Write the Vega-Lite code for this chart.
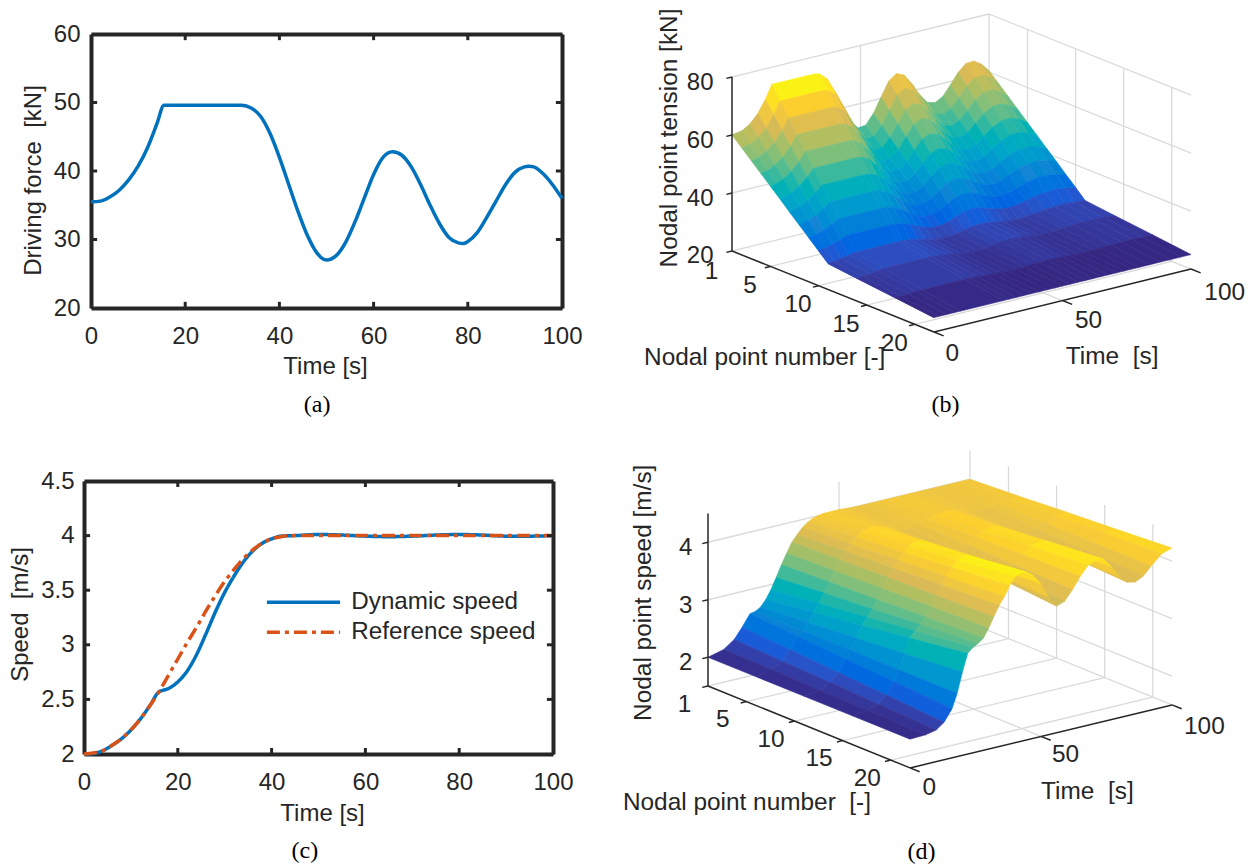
{"$schema":"https://vega.github.io/schema/vega-lite/v6.json","width":1253,"height":865,"autosize":{"type":"none"},"padding":0,"background":"white","config":{"view":{"stroke":null},"axis":{"grid":false,"labelFont":"Liberation Sans","titleFont":"Liberation Sans","labelFontSize":24,"titleFontSize":24,"titleFontWeight":"normal","labelColor":"#262626","titleColor":"#262626","domainColor":"#262626","tickColor":"#262626","labelPadding":16,"labelFlush":false,"labelOverlap":false,"titleBaseline":"middle"}},
"resolve":{"scale":{"x":"independent","y":"independent","color":"independent","fill":"independent","stroke":"independent","strokeDash":"independent"},"axis":{"x":"independent","y":"independent"}},
"layer":[
{"data":{"values":[{"t":0,"F":35.5},{"t":2,"F":35.6},{"t":4,"F":36.2},{"t":6,"F":37.2},{"t":8,"F":38.7},{"t":10,"F":40.7},{"t":12,"F":43.4},{"t":14,"F":46.9},{"t":15.5,"F":49.6},{"t":32,"F":49.6},{"t":34,"F":49.2},{"t":36,"F":48},{"t":38,"F":45.5},{"t":40,"F":42},{"t":42,"F":38},{"t":44,"F":34},{"t":46,"F":30.5},{"t":48,"F":28},{"t":50,"F":27},{"t":52,"F":27.6},{"t":54,"F":29.5},{"t":56,"F":32.5},{"t":58,"F":36},{"t":60,"F":39.5},{"t":62,"F":42},{"t":64,"F":42.8},{"t":66,"F":42.3},{"t":68,"F":40.6},{"t":70,"F":38},{"t":72,"F":35},{"t":74,"F":32.3},{"t":76,"F":30.3},{"t":78,"F":29.5},{"t":79,"F":29.4},{"t":80,"F":29.7},{"t":82,"F":31},{"t":84,"F":33.2},{"t":86,"F":35.6},{"t":88,"F":38},{"t":90,"F":39.8},{"t":92,"F":40.6},{"t":93,"F":40.7},{"t":94,"F":40.6},{"t":96,"F":39.6},{"t":98,"F":38},{"t":100,"F":36}]},
"mark":{"type":"line","color":"#0072bd","strokeWidth":3.5,"interpolate":"monotone"},
"encoding":{"x":{"field":"t","type":"quantitative","scale":{"domain":[0,100],"range":[91,562],"nice":false,"zero":false},"axis":{"orient":"bottom","offset":-557,"values":[0,20,40,60,80,100],"title":"Time [s]","titleX":325,"titleY":58,"labelPadding":21,"tickSize":-5,"domainWidth":4}},"y":{"field":"F","type":"quantitative","scale":{"domain":[20,60],"range":[308,34],"nice":false,"zero":false},"axis":{"orient":"left","offset":-91,"values":[20,30,40,50,60],"title":"Driving force\u00a0\u00a0[kN]","titleX":-58,"titleY":180,"tickSize":-5,"domainWidth":4}}}},
{"data":{"values":[{"t":0,"F":20}]},"mark":{"type":"point","opacity":0},"encoding":{"x":{"field":"t","type":"quantitative","scale":{"domain":[0,100],"range":[91,562],"nice":false,"zero":false},"axis":{"orient":"top","offset":-34,"values":[0,20,40,60,80,100],"labels":false,"title":null,"tickSize":-5,"domainWidth":4}},"y":{"field":"F","type":"quantitative","scale":{"domain":[20,60],"range":[308,34],"nice":false,"zero":false},"axis":{"orient":"right","offset":-691,"values":[20,30,40,50,60],"labels":false,"title":null,"tickSize":-5,"domainWidth":4}}}},
{"data":{"values":[{"t":20,"F":20,"t2":20,"F2":20.9},{"t":40,"F":20,"t2":40,"F2":20.9},{"t":60,"F":20,"t2":60,"F2":20.9},{"t":80,"F":20,"t2":80,"F2":20.9},{"t":20,"F":60,"t2":20,"F2":59.1},{"t":40,"F":60,"t2":40,"F2":59.1},{"t":60,"F":60,"t2":60,"F2":59.1},{"t":80,"F":60,"t2":80,"F2":59.1},{"t":0,"F":30,"t2":1.3,"F2":30},{"t":0,"F":40,"t2":1.3,"F2":40},{"t":0,"F":50,"t2":1.3,"F2":50},{"t":100,"F":30,"t2":98.7,"F2":30},{"t":100,"F":40,"t2":98.7,"F2":40},{"t":100,"F":50,"t2":98.7,"F2":50}]},"mark":{"type":"rule","color":"#262626","strokeWidth":3},"encoding":{"x":{"field":"t","type":"quantitative","scale":{"domain":[0,100],"range":[91,562],"nice":false,"zero":false},"axis":null},"y":{"field":"F","type":"quantitative","scale":{"domain":[20,60],"range":[308,34],"nice":false,"zero":false},"axis":null},"x2":{"field":"t2"},"y2":{"field":"F2"}}},
{"data":{"values":[{"t":48,"F":5.84,"label":"(a)"}]},"mark":{"type":"text","font":"Liberation Serif","fontSize":24,"color":"#000000"},"encoding":{"text":{"field":"label"},"x":{"field":"t","type":"quantitative","scale":{"domain":[0,100],"range":[91,562],"nice":false,"zero":false},"axis":null},"y":{"field":"F","type":"quantitative","scale":{"domain":[20,60],"range":[308,34],"nice":false,"zero":false},"axis":null}}},
{"data":{"values":[{"s":"Dynamic speed","t":0,"v":2},{"s":"Dynamic speed","t":2,"v":2.005},{"s":"Dynamic speed","t":4,"v":2.03},{"s":"Dynamic speed","t":6,"v":2.08},{"s":"Dynamic speed","t":8,"v":2.14},{"s":"Dynamic speed","t":10,"v":2.22},{"s":"Dynamic speed","t":12,"v":2.32},{"s":"Dynamic speed","t":14,"v":2.44},{"s":"Dynamic speed","t":16,"v":2.57},{"s":"Dynamic speed","t":17,"v":2.585},{"s":"Dynamic speed","t":18,"v":2.6},{"s":"Dynamic speed","t":20,"v":2.66},{"s":"Dynamic speed","t":22,"v":2.76},{"s":"Dynamic speed","t":24,"v":2.91},{"s":"Dynamic speed","t":26,"v":3.1},{"s":"Dynamic speed","t":28,"v":3.3},{"s":"Dynamic speed","t":30,"v":3.48},{"s":"Dynamic speed","t":32,"v":3.63},{"s":"Dynamic speed","t":34,"v":3.76},{"s":"Dynamic speed","t":36,"v":3.86},{"s":"Dynamic speed","t":38,"v":3.93},{"s":"Dynamic speed","t":40,"v":3.97},{"s":"Dynamic speed","t":42,"v":3.995},{"s":"Dynamic speed","t":45,"v":4},{"s":"Dynamic speed","t":50,"v":4.01},{"s":"Dynamic speed","t":55,"v":4.005},{"s":"Dynamic speed","t":60,"v":3.995},{"s":"Dynamic speed","t":65,"v":3.99},{"s":"Dynamic speed","t":70,"v":3.995},{"s":"Dynamic speed","t":75,"v":4.005},{"s":"Dynamic speed","t":80,"v":4.01},{"s":"Dynamic speed","t":85,"v":4.005},{"s":"Dynamic speed","t":90,"v":3.995},{"s":"Dynamic speed","t":95,"v":3.995},{"s":"Dynamic speed","t":100,"v":4},{"s":"Reference speed","t":0,"v":2},{"s":"Reference speed","t":2,"v":2.01},{"s":"Reference speed","t":4,"v":2.03},{"s":"Reference speed","t":6,"v":2.08},{"s":"Reference speed","t":8,"v":2.14},{"s":"Reference speed","t":10,"v":2.22},{"s":"Reference speed","t":12,"v":2.32},{"s":"Reference speed","t":14,"v":2.44},{"s":"Reference speed","t":16,"v":2.57},{"s":"Reference speed","t":18,"v":2.72},{"s":"Reference speed","t":20,"v":2.87},{"s":"Reference speed","t":22,"v":3.02},{"s":"Reference speed","t":24,"v":3.16},{"s":"Reference speed","t":26,"v":3.31},{"s":"Reference speed","t":28,"v":3.45},{"s":"Reference speed","t":30,"v":3.58},{"s":"Reference speed","t":32,"v":3.69},{"s":"Reference speed","t":34,"v":3.79},{"s":"Reference speed","t":36,"v":3.87},{"s":"Reference speed","t":38,"v":3.93},{"s":"Reference speed","t":40,"v":3.97},{"s":"Reference speed","t":42,"v":3.99},{"s":"Reference speed","t":44,"v":4},{"s":"Reference speed","t":60,"v":4},{"s":"Reference speed","t":80,"v":4},{"s":"Reference speed","t":100,"v":4}]},
"mark":{"type":"line","strokeWidth":3.5,"interpolate":"monotone"},
"encoding":{"x":{"field":"t","type":"quantitative","scale":{"domain":[0,100],"range":[84,553],"nice":false,"zero":false},"axis":{"orient":"bottom","offset":-111,"values":[0,20,40,60,80,100],"title":"Time [s]","titleX":322,"titleY":59,"labelPadding":21,"tickSize":-5,"domainWidth":4}},"y":{"field":"v","type":"quantitative","scale":{"domain":[2,4.5],"range":[754,481],"nice":false,"zero":false},"axis":{"orient":"left","offset":-84,"values":[2,2.5,3,3.5,4,4.5],"format":"~g","title":"Speed\u00a0\u00a0[m/s]","titleX":-64,"titleY":614,"labelPadding":15,"tickSize":-5,"domainWidth":4}},"color":{"field":"s","type":"nominal","legend":null,"scale":{"domain":["Dynamic speed","Reference speed"],"range":["#0072bd","#d95319"]}},"strokeDash":{"field":"s","type":"nominal","legend":null,"scale":{"domain":["Dynamic speed","Reference speed"],"range":[[1,0],[13,5,4,5]]}}}},
{"data":{"values":[{"s":"Dynamic speed","t":39,"v":3.39},{"s":"Dynamic speed","t":54.6,"v":3.39},{"s":"Reference speed","t":39,"v":3.115},{"s":"Reference speed","t":54.6,"v":3.115}]},
"mark":{"type":"line","strokeWidth":3.5},
"encoding":{"x":{"field":"t","type":"quantitative","scale":{"domain":[0,100],"range":[84,553],"nice":false,"zero":false},"axis":null},"y":{"field":"v","type":"quantitative","scale":{"domain":[2,4.5],"range":[754,481],"nice":false,"zero":false},"axis":null},"color":{"field":"s","type":"nominal","legend":null,"scale":{"domain":["Dynamic speed","Reference speed"],"range":["#0072bd","#d95319"]}},"strokeDash":{"field":"s","type":"nominal","legend":null,"scale":{"domain":["Dynamic speed","Reference speed"],"range":[[1,0],[13,5,4,5]]}}}},
{"data":{"values":[{"s":"Dynamic speed","t":57,"v":3.39},{"s":"Reference speed","t":57,"v":3.115}]},
"mark":{"type":"text","align":"left","baseline":"middle","font":"Liberation Sans","fontSize":24.2,"color":"#262626"},
"encoding":{"text":{"field":"s"},"x":{"field":"t","type":"quantitative","scale":{"domain":[0,100],"range":[84,553],"nice":false,"zero":false},"axis":null},"y":{"field":"v","type":"quantitative","scale":{"domain":[2,4.5],"range":[754,481],"nice":false,"zero":false},"axis":null}}},
{"data":{"values":[{"t":0,"v":2}]},"mark":{"type":"point","opacity":0},"encoding":{"x":{"field":"t","type":"quantitative","scale":{"domain":[0,100],"range":[84,553],"nice":false,"zero":false},"axis":{"orient":"top","offset":-481,"values":[0,20,40,60,80,100],"labels":false,"title":null,"tickSize":-5,"domainWidth":4}},"y":{"field":"v","type":"quantitative","scale":{"domain":[2,4.5],"range":[754,481],"nice":false,"zero":false},"axis":{"orient":"right","offset":-700,"values":[2,2.5,3,3.5,4,4.5],"labels":false,"title":null,"tickSize":-5,"domainWidth":4}}}},
{"data":{"values":[{"t":20,"v":2,"t2":20,"v2":2.055},{"t":40,"v":2,"t2":40,"v2":2.055},{"t":60,"v":2,"t2":60,"v2":2.055},{"t":80,"v":2,"t2":80,"v2":2.055},{"t":20,"v":4.5,"t2":20,"v2":4.445},{"t":40,"v":4.5,"t2":40,"v2":4.445},{"t":60,"v":4.5,"t2":60,"v2":4.445},{"t":80,"v":4.5,"t2":80,"v2":4.445},{"t":0,"v":2.5,"t2":1.3,"v2":2.5},{"t":0,"v":3,"t2":1.3,"v2":3},{"t":0,"v":3.5,"t2":1.3,"v2":3.5},{"t":0,"v":4,"t2":1.3,"v2":4},{"t":100,"v":2.5,"t2":98.7,"v2":2.5},{"t":100,"v":3,"t2":98.7,"v2":3},{"t":100,"v":3.5,"t2":98.7,"v2":3.5},{"t":100,"v":4,"t2":98.7,"v2":4}]},"mark":{"type":"rule","color":"#262626","strokeWidth":3},"encoding":{"x":{"field":"t","type":"quantitative","scale":{"domain":[0,100],"range":[84,553],"nice":false,"zero":false},"axis":null},"y":{"field":"v","type":"quantitative","scale":{"domain":[2,4.5],"range":[754,481],"nice":false,"zero":false},"axis":null},"x2":{"field":"t2"},"y2":{"field":"v2"}}},
{"data":{"values":[{"t":47.1,"v":1.11,"label":"(c)"}]},"mark":{"type":"text","font":"Liberation Serif","fontSize":24,"color":"#000000"},"encoding":{"text":{"field":"label"},"x":{"field":"t","type":"quantitative","scale":{"domain":[0,100],"range":[84,553],"nice":false,"zero":false},"axis":null},"y":{"field":"v","type":"quantitative","scale":{"domain":[2,4.5],"range":[754,481],"nice":false,"zero":false},"axis":null}}},

{"data":{"values":[{"t":0,"n":1,"z":20,"t2":100,"n2":1,"z2":20},{"t":0,"n":1,"z":40,"t2":100,"n2":1,"z2":40},{"t":0,"n":1,"z":60,"t2":100,"n2":1,"z2":60},{"t":0,"n":1,"z":80,"t2":100,"n2":1,"z2":80},{"t":100,"n":1,"z":20,"t2":100,"n2":22,"z2":20},{"t":100,"n":1,"z":40,"t2":100,"n2":22,"z2":40},{"t":100,"n":1,"z":60,"t2":100,"n2":22,"z2":60},{"t":100,"n":1,"z":80,"t2":100,"n2":22,"z2":80},{"t":100,"n":1,"z":20,"t2":100,"n2":1,"z2":80},{"t":50,"n":1,"z":20,"t2":50,"n2":1,"z2":80},{"t":100,"n":5,"z":20,"t2":100,"n2":5,"z2":80},{"t":100,"n":10,"z":20,"t2":100,"n2":10,"z2":80},{"t":100,"n":15,"z":20,"t2":100,"n2":15,"z2":80},{"t":100,"n":20,"z":20,"t2":100,"n2":20,"z2":80},{"t":50,"n":1,"z":20,"t2":50,"n2":22,"z2":20},{"t":0,"n":5,"z":20,"t2":100,"n2":5,"z2":20},{"t":0,"n":10,"z":20,"t2":100,"n2":10,"z2":20},{"t":0,"n":15,"z":20,"t2":100,"n2":15,"z2":20},{"t":0,"n":20,"z":20,"t2":100,"n2":20,"z2":20}]},
"transform":[{"calculate":"732+2.57*datum.t+9.62*(datum.n-1)","as":"sx"},{"calculate":"251-0.63*datum.t+3.86*(datum.n-1)-2.9*(datum.z-20)","as":"sy"},{"calculate":"732+2.57*datum.t2+9.62*(datum.n2-1)","as":"sx2"},{"calculate":"251-0.63*datum.t2+3.86*(datum.n2-1)-2.9*(datum.z2-20)","as":"sy2"}],
"mark":{"type":"rule","color":"#dadada","strokeWidth":1.3},
"encoding":{"x":{"field":"sx","type":"quantitative","scale":{"domain":[0,1253],"range":[0,1253],"nice":false,"zero":false},"axis":null},"y":{"field":"sy","type":"quantitative","scale":{"domain":[0,865],"range":[0,865],"nice":false,"zero":false},"axis":null},"x2":{"field":"sx2"},"y2":{"field":"sy2"}}},

{"data":{"values":[
{"t":100,"n":1,"z":60.5},{"t":100,"n":2,"z":57.4},{"t":100,"n":3,"z":54.2},{"t":100,"n":4,"z":51.1},{"t":100,"n":5,"z":47.9},{"t":100,"n":6,"z":44.8},{"t":100,"n":7,"z":41.6},{"t":100,"n":8,"z":38.5},{"t":100,"n":9,"z":35.3},{"t":100,"n":10,"z":32.2},{"t":100,"n":11,"z":29},{"t":100,"n":14,"z":27.9},{"t":100,"n":18,"z":26.5},{"t":100,"n":22,"z":25},
{"t":97,"n":1,"z":63.4},{"t":97,"n":2,"z":60},{"t":97,"n":3,"z":56.6},{"t":97,"n":4,"z":53.2},{"t":97,"n":5,"z":49.8},{"t":97,"n":6,"z":46.4},{"t":97,"n":7,"z":42.9},{"t":97,"n":8,"z":39.5},{"t":97,"n":9,"z":36.1},{"t":97,"n":10,"z":32.7},{"t":97,"n":11,"z":29.3},{"t":97,"n":14,"z":28.1},{"t":97,"n":18,"z":26.6},{"t":97,"n":22,"z":25},
{"t":94,"n":1,"z":65.1},{"t":94,"n":2,"z":61.6},{"t":94,"n":3,"z":58},{"t":94,"n":4,"z":54.5},{"t":94,"n":5,"z":50.9},{"t":94,"n":6,"z":47.4},{"t":94,"n":7,"z":43.8},{"t":94,"n":8,"z":40.3},{"t":94,"n":9,"z":36.7},{"t":94,"n":10,"z":33.2},{"t":94,"n":11,"z":29.6},{"t":94,"n":14,"z":28.3},{"t":94,"n":18,"z":26.7},{"t":94,"n":22,"z":25},
{"t":91,"n":1,"z":64.9},{"t":91,"n":2,"z":61.4},{"t":91,"n":3,"z":57.8},{"t":91,"n":4,"z":54.3},{"t":91,"n":5,"z":50.7},{"t":91,"n":6,"z":47.2},{"t":91,"n":7,"z":43.6},{"t":91,"n":8,"z":40.1},{"t":91,"n":9,"z":36.6},{"t":91,"n":10,"z":33},{"t":91,"n":11,"z":29.5},{"t":91,"n":14,"z":28.3},{"t":91,"n":18,"z":26.6},{"t":91,"n":22,"z":25},
{"t":88,"n":1,"z":62.5},{"t":88,"n":2,"z":59.2},{"t":88,"n":3,"z":55.8},{"t":88,"n":4,"z":52.5},{"t":88,"n":5,"z":49.2},{"t":88,"n":6,"z":45.9},{"t":88,"n":7,"z":42.5},{"t":88,"n":8,"z":39.2},{"t":88,"n":9,"z":35.9},{"t":88,"n":10,"z":32.5},{"t":88,"n":11,"z":29.2},{"t":88,"n":14,"z":28.1},{"t":88,"n":18,"z":26.5},{"t":88,"n":22,"z":25},
{"t":85,"n":1,"z":58.9},{"t":85,"n":2,"z":55.9},{"t":85,"n":3,"z":52.9},{"t":85,"n":4,"z":49.9},{"t":85,"n":5,"z":46.9},{"t":85,"n":6,"z":43.9},{"t":85,"n":7,"z":40.8},{"t":85,"n":8,"z":37.8},{"t":85,"n":9,"z":34.8},{"t":85,"n":10,"z":31.8},{"t":85,"n":11,"z":28.8},{"t":85,"n":14,"z":27.8},{"t":85,"n":18,"z":26.4},{"t":85,"n":22,"z":25},
{"t":82,"n":1,"z":55.5},{"t":82,"n":2,"z":52.8},{"t":82,"n":3,"z":50.1},{"t":82,"n":4,"z":47.4},{"t":82,"n":5,"z":44.7},{"t":82,"n":6,"z":42},{"t":82,"n":7,"z":39.2},{"t":82,"n":8,"z":36.5},{"t":82,"n":9,"z":33.8},{"t":82,"n":10,"z":31.1},{"t":82,"n":11,"z":28.4},{"t":82,"n":14,"z":27.5},{"t":82,"n":18,"z":26.2},{"t":82,"n":22,"z":25},
{"t":79,"n":1,"z":54},{"t":79,"n":2,"z":51.4},{"t":79,"n":3,"z":48.8},{"t":79,"n":4,"z":46.3},{"t":79,"n":5,"z":43.7},{"t":79,"n":6,"z":41.1},{"t":79,"n":7,"z":38.5},{"t":79,"n":8,"z":35.9},{"t":79,"n":9,"z":33.4},{"t":79,"n":10,"z":30.8},{"t":79,"n":11,"z":28.2},{"t":79,"n":14,"z":27.3},{"t":79,"n":18,"z":26.2},{"t":79,"n":22,"z":25},
{"t":76,"n":1,"z":54.8},{"t":76,"n":2,"z":52.2},{"t":76,"n":3,"z":49.5},{"t":76,"n":4,"z":46.9},{"t":76,"n":5,"z":44.2},{"t":76,"n":6,"z":41.6},{"t":76,"n":7,"z":38.9},{"t":76,"n":8,"z":36.3},{"t":76,"n":9,"z":33.6},{"t":76,"n":10,"z":31},{"t":76,"n":11,"z":28.3},{"t":76,"n":14,"z":27.4},{"t":76,"n":18,"z":26.2},{"t":76,"n":22,"z":25},
{"t":73,"n":1,"z":58.1},{"t":73,"n":2,"z":55.2},{"t":73,"n":3,"z":52.2},{"t":73,"n":4,"z":49.3},{"t":73,"n":5,"z":46.3},{"t":73,"n":6,"z":43.4},{"t":73,"n":7,"z":40.5},{"t":73,"n":8,"z":37.5},{"t":73,"n":9,"z":34.6},{"t":73,"n":10,"z":31.6},{"t":73,"n":11,"z":28.7},{"t":73,"n":14,"z":27.7},{"t":73,"n":18,"z":26.3},{"t":73,"n":22,"z":25},
{"t":70,"n":1,"z":62.5},{"t":70,"n":2,"z":59.2},{"t":70,"n":3,"z":55.8},{"t":70,"n":4,"z":52.5},{"t":70,"n":5,"z":49.2},{"t":70,"n":6,"z":45.9},{"t":70,"n":7,"z":42.5},{"t":70,"n":8,"z":39.2},{"t":70,"n":9,"z":35.9},{"t":70,"n":10,"z":32.5},{"t":70,"n":11,"z":29.2},{"t":70,"n":14,"z":28.1},{"t":70,"n":18,"z":26.5},{"t":70,"n":22,"z":25},
{"t":67,"n":1,"z":66.1},{"t":67,"n":2,"z":62.5},{"t":67,"n":3,"z":58.8},{"t":67,"n":4,"z":55.2},{"t":67,"n":5,"z":51.5},{"t":67,"n":6,"z":47.9},{"t":67,"n":7,"z":44.3},{"t":67,"n":8,"z":40.6},{"t":67,"n":9,"z":37},{"t":67,"n":10,"z":33.3},{"t":67,"n":11,"z":29.7},{"t":67,"n":14,"z":28.4},{"t":67,"n":18,"z":26.7},{"t":67,"n":22,"z":25},
{"t":64,"n":1,"z":67.3},{"t":64,"n":2,"z":63.6},{"t":64,"n":3,"z":59.8},{"t":64,"n":4,"z":56.1},{"t":64,"n":5,"z":52.3},{"t":64,"n":6,"z":48.6},{"t":64,"n":7,"z":44.8},{"t":64,"n":8,"z":41.1},{"t":64,"n":9,"z":37.3},{"t":64,"n":10,"z":33.6},{"t":64,"n":11,"z":29.8},{"t":64,"n":14,"z":28.5},{"t":64,"n":18,"z":26.7},{"t":64,"n":22,"z":25},
{"t":61,"n":1,"z":65.4},{"t":61,"n":2,"z":61.8},{"t":61,"n":3,"z":58.2},{"t":61,"n":4,"z":54.7},{"t":61,"n":5,"z":51.1},{"t":61,"n":6,"z":47.5},{"t":61,"n":7,"z":43.9},{"t":61,"n":8,"z":40.3},{"t":61,"n":9,"z":36.8},{"t":61,"n":10,"z":33.2},{"t":61,"n":11,"z":29.6},{"t":61,"n":14,"z":28.3},{"t":61,"n":18,"z":26.7},{"t":61,"n":22,"z":25},
{"t":58,"n":1,"z":60.5},{"t":58,"n":2,"z":57.4},{"t":58,"n":3,"z":54.2},{"t":58,"n":4,"z":51.1},{"t":58,"n":5,"z":47.9},{"t":58,"n":6,"z":44.8},{"t":58,"n":7,"z":41.6},{"t":58,"n":8,"z":38.5},{"t":58,"n":9,"z":35.3},{"t":58,"n":10,"z":32.2},{"t":58,"n":11,"z":29},{"t":58,"n":14,"z":27.9},{"t":58,"n":18,"z":26.5},{"t":58,"n":22,"z":25},
{"t":55,"n":1,"z":55.5},{"t":55,"n":2,"z":52.8},{"t":55,"n":3,"z":50.1},{"t":55,"n":4,"z":47.4},{"t":55,"n":5,"z":44.7},{"t":55,"n":6,"z":42},{"t":55,"n":7,"z":39.2},{"t":55,"n":8,"z":36.5},{"t":55,"n":9,"z":33.8},{"t":55,"n":10,"z":31.1},{"t":55,"n":11,"z":28.4},{"t":55,"n":14,"z":27.5},{"t":55,"n":18,"z":26.2},{"t":55,"n":22,"z":25},
{"t":52,"n":1,"z":52.1},{"t":52,"n":2,"z":49.7},{"t":52,"n":3,"z":47.3},{"t":52,"n":4,"z":44.9},{"t":52,"n":5,"z":42.5},{"t":52,"n":6,"z":40.1},{"t":52,"n":7,"z":37.6},{"t":52,"n":8,"z":35.2},{"t":52,"n":9,"z":32.8},{"t":52,"n":10,"z":30.4},{"t":52,"n":11,"z":28},{"t":52,"n":14,"z":27.2},{"t":52,"n":18,"z":26.1},{"t":52,"n":22,"z":25},
{"t":49,"n":1,"z":51.8},{"t":49,"n":2,"z":49.4},{"t":49,"n":3,"z":47},{"t":49,"n":4,"z":44.7},{"t":49,"n":5,"z":42.3},{"t":49,"n":6,"z":39.9},{"t":49,"n":7,"z":37.5},{"t":49,"n":8,"z":35.1},{"t":49,"n":9,"z":32.8},{"t":49,"n":10,"z":30.4},{"t":49,"n":11,"z":28},{"t":49,"n":14,"z":27.2},{"t":49,"n":18,"z":26.1},{"t":49,"n":22,"z":25},
{"t":46,"n":1,"z":55},{"t":46,"n":2,"z":52.3},{"t":46,"n":3,"z":49.7},{"t":46,"n":4,"z":47},{"t":46,"n":5,"z":44.3},{"t":46,"n":6,"z":41.7},{"t":46,"n":7,"z":39},{"t":46,"n":8,"z":36.3},{"t":46,"n":9,"z":33.6},{"t":46,"n":10,"z":31},{"t":46,"n":11,"z":28.3},{"t":46,"n":14,"z":27.4},{"t":46,"n":18,"z":26.2},{"t":46,"n":22,"z":25},
{"t":43,"n":1,"z":60.5},{"t":43,"n":2,"z":57.4},{"t":43,"n":3,"z":54.2},{"t":43,"n":4,"z":51.1},{"t":43,"n":5,"z":47.9},{"t":43,"n":6,"z":44.8},{"t":43,"n":7,"z":41.6},{"t":43,"n":8,"z":38.5},{"t":43,"n":9,"z":35.3},{"t":43,"n":10,"z":32.2},{"t":43,"n":11,"z":29},{"t":43,"n":14,"z":27.9},{"t":43,"n":18,"z":26.5},{"t":43,"n":22,"z":25},
{"t":40,"n":1,"z":66.5},{"t":40,"n":2,"z":62.8},{"t":40,"n":3,"z":59.1},{"t":40,"n":4,"z":55.5},{"t":40,"n":5,"z":51.8},{"t":40,"n":6,"z":48.1},{"t":40,"n":7,"z":44.4},{"t":40,"n":8,"z":40.7},{"t":40,"n":9,"z":37.1},{"t":40,"n":10,"z":33.4},{"t":40,"n":11,"z":29.7},{"t":40,"n":14,"z":28.4},{"t":40,"n":18,"z":26.7},{"t":40,"n":22,"z":25},
{"t":37,"n":1,"z":71.4},{"t":37,"n":2,"z":67.3},{"t":37,"n":3,"z":63.2},{"t":37,"n":4,"z":59.1},{"t":37,"n":5,"z":55},{"t":37,"n":6,"z":50.9},{"t":37,"n":7,"z":46.7},{"t":37,"n":8,"z":42.6},{"t":37,"n":9,"z":38.5},{"t":37,"n":10,"z":34.4},{"t":37,"n":11,"z":30.3},{"t":37,"n":14,"z":28.8},{"t":37,"n":18,"z":26.9},{"t":37,"n":22,"z":25},
{"t":34,"n":1,"z":73.7},{"t":34,"n":2,"z":69.4},{"t":34,"n":3,"z":65.1},{"t":34,"n":4,"z":60.8},{"t":34,"n":5,"z":56.5},{"t":34,"n":6,"z":52.2},{"t":34,"n":7,"z":47.8},{"t":34,"n":8,"z":43.5},{"t":34,"n":9,"z":39.2},{"t":34,"n":10,"z":34.9},{"t":34,"n":11,"z":30.6},{"t":34,"n":14,"z":29.1},{"t":34,"n":18,"z":27},{"t":34,"n":22,"z":25},
{"t":32,"n":1,"z":74.1},{"t":32,"n":2,"z":69.8},{"t":32,"n":3,"z":65.4},{"t":32,"n":4,"z":61.1},{"t":32,"n":5,"z":56.7},{"t":32,"n":6,"z":52.4},{"t":32,"n":7,"z":48},{"t":32,"n":8,"z":43.7},{"t":32,"n":9,"z":39.3},{"t":32,"n":10,"z":35},{"t":32,"n":11,"z":30.6},{"t":32,"n":14,"z":29.1},{"t":32,"n":18,"z":27},{"t":32,"n":22,"z":25},
{"t":15.5,"n":1,"z":74.1},{"t":15.5,"n":2,"z":69.8},{"t":15.5,"n":3,"z":65.4},{"t":15.5,"n":4,"z":61.1},{"t":15.5,"n":5,"z":56.7},{"t":15.5,"n":6,"z":52.4},{"t":15.5,"n":7,"z":48},{"t":15.5,"n":8,"z":43.7},{"t":15.5,"n":9,"z":39.3},{"t":15.5,"n":10,"z":35},{"t":15.5,"n":11,"z":30.6},{"t":15.5,"n":14,"z":29.1},{"t":15.5,"n":18,"z":27},{"t":15.5,"n":22,"z":25},
{"t":13,"n":1,"z":69.5},{"t":13,"n":2,"z":65.6},{"t":13,"n":3,"z":61.6},{"t":13,"n":4,"z":57.7},{"t":13,"n":5,"z":53.7},{"t":13,"n":6,"z":49.8},{"t":13,"n":7,"z":45.9},{"t":13,"n":8,"z":41.9},{"t":13,"n":9,"z":38},{"t":13,"n":10,"z":34},{"t":13,"n":11,"z":30.1},{"t":13,"n":14,"z":28.7},{"t":13,"n":18,"z":26.9},{"t":13,"n":22,"z":25},
{"t":10,"n":1,"z":65.2},{"t":10,"n":2,"z":61.6},{"t":10,"n":3,"z":58.1},{"t":10,"n":4,"z":54.5},{"t":10,"n":5,"z":51},{"t":10,"n":6,"z":47.4},{"t":10,"n":7,"z":43.8},{"t":10,"n":8,"z":40.2},{"t":10,"n":9,"z":36.7},{"t":10,"n":10,"z":33.2},{"t":10,"n":11,"z":29.6},{"t":10,"n":14,"z":28.3},{"t":10,"n":18,"z":26.7},{"t":10,"n":22,"z":25},
{"t":7,"n":1,"z":62.4},{"t":7,"n":2,"z":59.1},{"t":7,"n":3,"z":55.8},{"t":7,"n":4,"z":52.4},{"t":7,"n":5,"z":49.1},{"t":7,"n":6,"z":45.8},{"t":7,"n":7,"z":42.5},{"t":7,"n":8,"z":39.2},{"t":7,"n":9,"z":35.8},{"t":7,"n":10,"z":32.5},{"t":7,"n":11,"z":29.2},{"t":7,"n":14,"z":28.1},{"t":7,"n":18,"z":26.5},{"t":7,"n":22,"z":25},
{"t":4,"n":1,"z":60.7},{"t":4,"n":2,"z":57.5},{"t":4,"n":3,"z":54.4},{"t":4,"n":4,"z":51.2},{"t":4,"n":5,"z":48},{"t":4,"n":6,"z":44.9},{"t":4,"n":7,"z":41.7},{"t":4,"n":8,"z":38.5},{"t":4,"n":9,"z":35.3},{"t":4,"n":10,"z":32.2},{"t":4,"n":11,"z":29},{"t":4,"n":14,"z":27.9},{"t":4,"n":18,"z":26.5},{"t":4,"n":22,"z":25},
{"t":0,"n":1,"z":60},{"t":0,"n":2,"z":56.9},{"t":0,"n":3,"z":53.8},{"t":0,"n":4,"z":50.7},{"t":0,"n":5,"z":47.6},{"t":0,"n":6,"z":44.5},{"t":0,"n":7,"z":41.3},{"t":0,"n":8,"z":38.2},{"t":0,"n":9,"z":35.1},{"t":0,"n":10,"z":32},{"t":0,"n":11,"z":28.9},{"t":0,"n":14,"z":27.8},{"t":0,"n":18,"z":26.4},{"t":0,"n":22,"z":25}
]},
"transform":[{"window":[{"op":"lead","field":"z","as":"zt"},{"op":"lead","field":"t","as":"t2"}],"groupby":["n"],"sort":[{"field":"t","order":"ascending"}]},{"window":[{"op":"lead","field":"z","as":"zn"},{"op":"lead","field":"zt","as":"ztn"},{"op":"lead","field":"n","as":"n2"}],"groupby":["t"],"sort":[{"field":"n","order":"ascending"}]},{"filter":"datum.t2!=null && datum.n2!=null"},{"calculate":"(datum.z+datum.zt+datum.zn+datum.ztn)/4","as":"m"},{"calculate":"clamp(datum.t-0.5*(min(datum.n,11)-1)*min(1,(100-datum.t)/15),0,100)","as":"ta"},{"calculate":"clamp(datum.t2-0.5*(min(datum.n,11)-1)*min(1,(100-datum.t2)/15),0,100)","as":"tb"},{"calculate":"clamp(datum.t2-0.5*(min(datum.n2,11)-1)*min(1,(100-datum.t2)/15),0,100)","as":"tc"},{"calculate":"clamp(datum.t-0.5*(min(datum.n2,11)-1)*min(1,(100-datum.t)/15),0,100)","as":"td"},{"calculate":"{type:'Feature',properties:{},geometry:{type:'Polygon',coordinates:[[[732+2.57*datum.ta+9.62*(datum.n-1),251-0.63*datum.ta+3.86*(datum.n-1)-2.9*(datum.z-20)],[732+2.57*datum.tb+9.62*(datum.n-1),251-0.63*datum.tb+3.86*(datum.n-1)-2.9*(datum.zt-20)],[732+2.57*datum.tc+9.62*(datum.n2-1),251-0.63*datum.tc+3.86*(datum.n2-1)-2.9*(datum.ztn-20)],[732+2.57*datum.td+9.62*(datum.n2-1),251-0.63*datum.td+3.86*(datum.n2-1)-2.9*(datum.zn-20)],[732+2.57*datum.ta+9.62*(datum.n-1),251-0.63*datum.ta+3.86*(datum.n-1)-2.9*(datum.z-20)]]]}}","as":"geo"}],
"projection":{"type":"identity","scale":1,"translate":[0,0]},
"mark":{"type":"geoshape","strokeWidth":0.6},
"encoding":{"shape":{"field":"geo","type":"geojson"},"fill":{"field":"m","type":"quantitative","legend":null,"scale":{"domain":[26,32,38,44,50,56,62,67.5,73],"range":["#352a87","#0363e1","#1485d4","#06a7c6","#38b99e","#92bf73","#d9ba56","#fcce2e","#f9fb0e"]}},"stroke":{"field":"m","type":"quantitative","legend":null,"scale":{"domain":[26,32,38,44,50,56,62,67.5,73],"range":["#352a87","#0363e1","#1485d4","#06a7c6","#38b99e","#92bf73","#d9ba56","#fcce2e","#f9fb0e"]}}}},

{"data":{"values":[{"t":0,"n":1,"z":20,"t2":0,"n2":1,"z2":80},{"t":0,"n":1,"z":20,"t2":0,"n2":22,"z2":20},{"t":0,"n":22,"z":20,"t2":100,"n2":22,"z2":20},{"t":0,"n":1,"z":20,"t2":-2.2,"n2":1,"z2":20},{"t":0,"n":1,"z":40,"t2":-2.2,"n2":1,"z2":40},{"t":0,"n":1,"z":60,"t2":-2.2,"n2":1,"z2":60},{"t":0,"n":1,"z":80,"t2":-2.2,"n2":1,"z2":80},{"t":0,"n":5,"z":20,"t2":-2.2,"n2":5,"z2":20},{"t":0,"n":10,"z":20,"t2":-2.2,"n2":10,"z2":20},{"t":0,"n":15,"z":20,"t2":-2.2,"n2":15,"z2":20},{"t":0,"n":20,"z":20,"t2":-2.2,"n2":20,"z2":20},{"t":0,"n":22,"z":20,"t2":0,"n2":23,"z2":20},{"t":50,"n":22,"z":20,"t2":50,"n2":23,"z2":20},{"t":100,"n":22,"z":20,"t2":100,"n2":23,"z2":20}]},
"transform":[{"calculate":"732+2.57*datum.t+9.62*(datum.n-1)","as":"sx"},{"calculate":"251-0.63*datum.t+3.86*(datum.n-1)-2.9*(datum.z-20)","as":"sy"},{"calculate":"732+2.57*datum.t2+9.62*(datum.n2-1)","as":"sx2"},{"calculate":"251-0.63*datum.t2+3.86*(datum.n2-1)-2.9*(datum.z2-20)","as":"sy2"}],
"mark":{"type":"rule","color":"#262626","strokeWidth":1.5},
"encoding":{"x":{"field":"sx","type":"quantitative","scale":{"domain":[0,1253],"range":[0,1253],"nice":false,"zero":false},"axis":null},"y":{"field":"sy","type":"quantitative","scale":{"domain":[0,865],"range":[0,865],"nice":false,"zero":false},"axis":null},"x2":{"field":"sx2"},"y2":{"field":"sy2"}}},

{"data":{"values":[{"label":"20","t":-7.2,"n":1,"z":19.9},{"label":"40","t":-7.2,"n":1,"z":39.4},{"label":"60","t":-7.2,"n":1,"z":59.4},{"label":"80","t":-7.2,"n":1,"z":79.4}]},
"transform":[{"calculate":"732+2.57*datum.t+9.62*(datum.n-1)","as":"sx"},{"calculate":"251-0.63*datum.t+3.86*(datum.n-1)-2.9*(datum.z-20)","as":"sy"}],
"mark":{"type":"text","align":"right","baseline":"middle","font":"Liberation Sans","fontSize":24,"color":"#262626"},
"encoding":{"text":{"field":"label"},"x":{"field":"sx","type":"quantitative","scale":{"domain":[0,1253],"range":[0,1253],"nice":false,"zero":false},"axis":null},"y":{"field":"sy","type":"quantitative","scale":{"domain":[0,865],"range":[0,865],"nice":false,"zero":false},"axis":null}}},

{"data":{"values":[{"label":"1","t":-8,"n":1,"z":14.4},{"label":"5","t":-8,"n":5,"z":15},{"label":"10","t":-8,"n":10,"z":15},{"label":"15","t":-8,"n":15,"z":15},{"label":"20","t":-8,"n":20,"z":15},{"label":"0","t":0,"n":23.9,"z":15},{"label":"50","t":53,"n":23.9,"z":15},{"label":"100","t":106,"n":23.9,"z":13},{"label":"Nodal point number [-]","t":0,"n":4.4,"z":-12.2},{"label":"Time\u00a0\u00a0[s]","t":100,"n":13.8,"z":-21.2}]},
"transform":[{"calculate":"732+2.57*datum.t+9.62*(datum.n-1)","as":"sx"},{"calculate":"251-0.63*datum.t+3.86*(datum.n-1)-2.9*(datum.z-20)","as":"sy"}],
"mark":{"type":"text","align":"center","baseline":"middle","font":"Liberation Sans","fontSize":24.4,"color":"#262626"},
"encoding":{"text":{"field":"label"},"x":{"field":"sx","type":"quantitative","scale":{"domain":[0,1253],"range":[0,1253],"nice":false,"zero":false},"axis":null},"y":{"field":"sy","type":"quantitative","scale":{"domain":[0,865],"range":[0,865],"nice":false,"zero":false},"axis":null}}},

{"data":{"values":[{"label":"Nodal point tension [kN]","t":-24.1,"n":1,"z":64.2}]},
"transform":[{"calculate":"732+2.57*datum.t+9.62*(datum.n-1)","as":"sx"},{"calculate":"251-0.63*datum.t+3.86*(datum.n-1)-2.9*(datum.z-20)","as":"sy"}],
"mark":{"type":"text","angle":270,"align":"center","baseline":"middle","font":"Liberation Sans","fontSize":24.4,"color":"#262626"},
"encoding":{"text":{"field":"label"},"x":{"field":"sx","type":"quantitative","scale":{"domain":[0,1253],"range":[0,1253],"nice":false,"zero":false},"axis":null},"y":{"field":"sy","type":"quantitative","scale":{"domain":[0,865],"range":[0,865],"nice":false,"zero":false},"axis":null}}},

{"data":{"values":[{"label":"(b)","t":0,"n":23.2,"z":-3.6}]},
"transform":[{"calculate":"732+2.57*datum.t+9.62*(datum.n-1)","as":"sx"},{"calculate":"251-0.63*datum.t+3.86*(datum.n-1)-2.9*(datum.z-20)","as":"sy"}],
"mark":{"type":"text","font":"Liberation Serif","fontSize":24,"color":"#000000"},
"encoding":{"text":{"field":"label"},"x":{"field":"sx","type":"quantitative","scale":{"domain":[0,1253],"range":[0,1253],"nice":false,"zero":false},"axis":null},"y":{"field":"sy","type":"quantitative","scale":{"domain":[0,865],"range":[0,865],"nice":false,"zero":false},"axis":null}}},

{"data":{"values":[{"t":0,"n":1,"z":1.5,"t2":100,"n2":1,"z2":1.5},{"t":0,"n":1,"z":2,"t2":100,"n2":1,"z2":2},{"t":0,"n":1,"z":3,"t2":100,"n2":1,"z2":3},{"t":0,"n":1,"z":4,"t2":100,"n2":1,"z2":4},{"t":100,"n":1,"z":1.5,"t2":100,"n2":22,"z2":1.5},{"t":100,"n":1,"z":2,"t2":100,"n2":22,"z2":2},{"t":100,"n":1,"z":3,"t2":100,"n2":22,"z2":3},{"t":100,"n":1,"z":4,"t2":100,"n2":22,"z2":4},{"t":100,"n":1,"z":1.5,"t2":100,"n2":1,"z2":4.5},{"t":50,"n":1,"z":1.5,"t2":50,"n2":1,"z2":4.5},{"t":100,"n":5,"z":1.5,"t2":100,"n2":5,"z2":4.5},{"t":100,"n":10,"z":1.5,"t2":100,"n2":10,"z2":4.5},{"t":100,"n":15,"z":1.5,"t2":100,"n2":15,"z2":4.5},{"t":100,"n":20,"z":1.5,"t2":100,"n2":20,"z2":4.5},{"t":50,"n":1,"z":1.5,"t2":50,"n2":22,"z2":1.5},{"t":0,"n":5,"z":1.5,"t2":100,"n2":5,"z2":1.5},{"t":0,"n":10,"z":1.5,"t2":100,"n2":10,"z2":1.5},{"t":0,"n":15,"z":1.5,"t2":100,"n2":15,"z2":1.5},{"t":0,"n":20,"z":1.5,"t2":100,"n2":20,"z2":1.5}]},
"transform":[{"calculate":"708+2.62*datum.t+9.62*(datum.n-1)","as":"sx"},{"calculate":"686-0.63*datum.t+3.9*(datum.n-1)-57.5*(datum.z-1.5)","as":"sy"},{"calculate":"708+2.62*datum.t2+9.62*(datum.n2-1)","as":"sx2"},{"calculate":"686-0.63*datum.t2+3.9*(datum.n2-1)-57.5*(datum.z2-1.5)","as":"sy2"}],
"mark":{"type":"rule","color":"#dadada","strokeWidth":1.3},
"encoding":{"x":{"field":"sx","type":"quantitative","scale":{"domain":[0,1253],"range":[0,1253],"nice":false,"zero":false},"axis":null},"y":{"field":"sy","type":"quantitative","scale":{"domain":[0,865],"range":[0,865],"nice":false,"zero":false},"axis":null},"x2":{"field":"sx2"},"y2":{"field":"sy2"}}},

{"data":{"values":[
{"t":100,"n":1,"z":4},{"t":100,"n":6,"z":4.05},{"t":100,"n":11,"z":4.11},{"t":100,"n":16,"z":4.16},{"t":100,"n":22,"z":4.23},
{"t":96,"n":1,"z":4},{"t":96,"n":6,"z":4.04},{"t":96,"n":11,"z":4.08},{"t":96,"n":16,"z":4.12},{"t":96,"n":22,"z":4.17},
{"t":92,"n":1,"z":4},{"t":92,"n":6,"z":4},{"t":92,"n":11,"z":4},{"t":92,"n":16,"z":4},{"t":92,"n":22,"z":4},
{"t":89,"n":1,"z":4},{"t":89,"n":6,"z":3.97},{"t":89,"n":11,"z":3.93},{"t":89,"n":16,"z":3.9},{"t":89,"n":22,"z":3.86},
{"t":86,"n":1,"z":4},{"t":86,"n":6,"z":3.95},{"t":86,"n":11,"z":3.9},{"t":86,"n":16,"z":3.85},{"t":86,"n":22,"z":3.79},
{"t":83,"n":1,"z":4},{"t":83,"n":6,"z":3.96},{"t":83,"n":11,"z":3.91},{"t":83,"n":16,"z":3.87},{"t":83,"n":22,"z":3.82},
{"t":80,"n":1,"z":4},{"t":80,"n":6,"z":3.99},{"t":80,"n":11,"z":3.98},{"t":80,"n":16,"z":3.96},{"t":80,"n":22,"z":3.95},
{"t":77,"n":1,"z":4},{"t":77,"n":6,"z":4.04},{"t":77,"n":11,"z":4.07},{"t":77,"n":16,"z":4.11},{"t":77,"n":22,"z":4.15},
{"t":74,"n":1,"z":4},{"t":74,"n":6,"z":4.08},{"t":74,"n":11,"z":4.15},{"t":74,"n":16,"z":4.23},{"t":74,"n":22,"z":4.32},
{"t":71,"n":1,"z":4},{"t":71,"n":6,"z":4.08},{"t":71,"n":11,"z":4.16},{"t":71,"n":16,"z":4.24},{"t":71,"n":22,"z":4.34},
{"t":68,"n":1,"z":4},{"t":68,"n":6,"z":4.07},{"t":68,"n":11,"z":4.13},{"t":68,"n":16,"z":4.2},{"t":68,"n":22,"z":4.28},
{"t":65,"n":1,"z":4},{"t":65,"n":6,"z":4.03},{"t":65,"n":11,"z":4.06},{"t":65,"n":16,"z":4.09},{"t":65,"n":22,"z":4.12},
{"t":62,"n":1,"z":4},{"t":62,"n":6,"z":3.98},{"t":62,"n":11,"z":3.96},{"t":62,"n":16,"z":3.94},{"t":62,"n":22,"z":3.92},
{"t":59,"n":1,"z":4},{"t":59,"n":6,"z":3.94},{"t":59,"n":11,"z":3.88},{"t":59,"n":16,"z":3.82},{"t":59,"n":22,"z":3.75},
{"t":56,"n":1,"z":4},{"t":56,"n":6,"z":3.93},{"t":56,"n":11,"z":3.86},{"t":56,"n":16,"z":3.79},{"t":56,"n":22,"z":3.7},
{"t":53,"n":1,"z":4.01},{"t":53,"n":6,"z":3.98},{"t":53,"n":11,"z":3.95},{"t":53,"n":16,"z":3.92},{"t":53,"n":22,"z":3.88},
{"t":50,"n":1,"z":4.02},{"t":50,"n":6,"z":4.05},{"t":50,"n":11,"z":4.08},{"t":50,"n":16,"z":4.11},{"t":50,"n":22,"z":4.15},
{"t":47,"n":1,"z":4.02},{"t":47,"n":6,"z":4.09},{"t":47,"n":11,"z":4.17},{"t":47,"n":16,"z":4.24},{"t":47,"n":22,"z":4.33},
{"t":44,"n":1,"z":4.02},{"t":44,"n":6,"z":4.12},{"t":44,"n":11,"z":4.22},{"t":44,"n":16,"z":4.31},{"t":44,"n":22,"z":4.43},
{"t":42,"n":1,"z":4},{"t":42,"n":6,"z":4.1},{"t":42,"n":11,"z":4.21},{"t":42,"n":16,"z":4.31},{"t":42,"n":22,"z":4.43},
{"t":40,"n":1,"z":3.98},{"t":40,"n":6,"z":4.08},{"t":40,"n":11,"z":4.17},{"t":40,"n":16,"z":4.26},{"t":40,"n":22,"z":4.38},
{"t":38,"n":1,"z":3.93},{"t":38,"n":6,"z":4.01},{"t":38,"n":11,"z":4.08},{"t":38,"n":16,"z":4.16},{"t":38,"n":22,"z":4.25},
{"t":36,"n":1,"z":3.86},{"t":36,"n":6,"z":3.91},{"t":36,"n":11,"z":3.97},{"t":36,"n":16,"z":4.02},{"t":36,"n":22,"z":4.08},
{"t":34,"n":1,"z":3.76},{"t":34,"n":6,"z":3.81},{"t":34,"n":11,"z":3.85},{"t":34,"n":16,"z":3.9},{"t":34,"n":22,"z":3.95},
{"t":32,"n":1,"z":3.65},{"t":32,"n":6,"z":3.68},{"t":32,"n":11,"z":3.71},{"t":32,"n":16,"z":3.74},{"t":32,"n":22,"z":3.78},
{"t":30,"n":1,"z":3.48},{"t":30,"n":6,"z":3.51},{"t":30,"n":11,"z":3.54},{"t":30,"n":16,"z":3.57},{"t":30,"n":22,"z":3.6},
{"t":28,"n":1,"z":3.3},{"t":28,"n":6,"z":3.34},{"t":28,"n":11,"z":3.37},{"t":28,"n":16,"z":3.41},{"t":28,"n":22,"z":3.45},
{"t":26,"n":1,"z":3.1},{"t":26,"n":6,"z":3.17},{"t":26,"n":11,"z":3.23},{"t":26,"n":16,"z":3.3},{"t":26,"n":22,"z":3.38},
{"t":24,"n":1,"z":2.91},{"t":24,"n":6,"z":3.01},{"t":24,"n":11,"z":3.11},{"t":24,"n":16,"z":3.21},{"t":24,"n":22,"z":3.33},
{"t":22,"n":1,"z":2.76},{"t":22,"n":6,"z":2.88},{"t":22,"n":11,"z":2.99},{"t":22,"n":16,"z":3.11},{"t":22,"n":22,"z":3.25},
{"t":20,"n":1,"z":2.65},{"t":20,"n":6,"z":2.72},{"t":20,"n":11,"z":2.79},{"t":20,"n":16,"z":2.86},{"t":20,"n":22,"z":2.95},
{"t":18,"n":1,"z":2.6},{"t":18,"n":6,"z":2.6},{"t":18,"n":11,"z":2.6},{"t":18,"n":16,"z":2.6},{"t":18,"n":22,"z":2.6},
{"t":16,"n":1,"z":2.58},{"t":16,"n":6,"z":2.53},{"t":16,"n":11,"z":2.47},{"t":16,"n":16,"z":2.42},{"t":16,"n":22,"z":2.35},
{"t":13,"n":1,"z":2.38},{"t":13,"n":6,"z":2.33},{"t":13,"n":11,"z":2.27},{"t":13,"n":16,"z":2.22},{"t":13,"n":22,"z":2.15},
{"t":10,"n":1,"z":2.2},{"t":10,"n":6,"z":2.16},{"t":10,"n":11,"z":2.13},{"t":10,"n":16,"z":2.09},{"t":10,"n":22,"z":2.05},
{"t":6,"n":1,"z":2.07},{"t":6,"n":6,"z":2.06},{"t":6,"n":11,"z":2.04},{"t":6,"n":16,"z":2.03},{"t":6,"n":22,"z":2.01},
{"t":0,"n":1,"z":2},{"t":0,"n":6,"z":2},{"t":0,"n":11,"z":2},{"t":0,"n":16,"z":2},{"t":0,"n":22,"z":2}
]},
"transform":[{"window":[{"op":"lead","field":"z","as":"zt"},{"op":"lead","field":"t","as":"t2"}],"groupby":["n"],"sort":[{"field":"t","order":"ascending"}]},{"window":[{"op":"lead","field":"z","as":"zn"},{"op":"lead","field":"zt","as":"ztn"},{"op":"lead","field":"n","as":"n2"}],"groupby":["t"],"sort":[{"field":"n","order":"ascending"}]},{"filter":"datum.t2!=null && datum.n2!=null"},{"calculate":"(datum.z+datum.zt+datum.zn+datum.ztn)/4","as":"m"},{"calculate":"{type:'Feature',properties:{},geometry:{type:'Polygon',coordinates:[[[708+2.62*datum.t+9.62*(datum.n-1),686-0.63*datum.t+3.9*(datum.n-1)-57.5*(datum.z-1.5)],[708+2.62*datum.t2+9.62*(datum.n-1),686-0.63*datum.t2+3.9*(datum.n-1)-57.5*(datum.zt-1.5)],[708+2.62*datum.t2+9.62*(datum.n2-1),686-0.63*datum.t2+3.9*(datum.n2-1)-57.5*(datum.ztn-1.5)],[708+2.62*datum.t+9.62*(datum.n2-1),686-0.63*datum.t+3.9*(datum.n2-1)-57.5*(datum.zn-1.5)],[708+2.62*datum.t+9.62*(datum.n-1),686-0.63*datum.t+3.9*(datum.n-1)-57.5*(datum.z-1.5)]]]}}","as":"geo"}],
"projection":{"type":"identity","scale":1,"translate":[0,0]},
"mark":{"type":"geoshape","strokeWidth":0.6},
"encoding":{"shape":{"field":"geo","type":"geojson"},"fill":{"field":"m","type":"quantitative","legend":null,"scale":{"domain":[2,2.3,2.6,2.9,3.2,3.5,3.8,4.1,4.43],"range":["#352a87","#0363e1","#1485d4","#06a7c6","#38b99e","#92bf73","#d9ba56","#fcce2e","#f9fb0e"]}},"stroke":{"field":"m","type":"quantitative","legend":null,"scale":{"domain":[2,2.3,2.6,2.9,3.2,3.5,3.8,4.1,4.43],"range":["#352a87","#0363e1","#1485d4","#06a7c6","#38b99e","#92bf73","#d9ba56","#fcce2e","#f9fb0e"]}}}},

{"data":{"values":[{"t":0,"n":1,"z":1.5,"t2":0,"n2":1,"z2":4.5},{"t":0,"n":1,"z":1.5,"t2":0,"n2":22,"z2":1.5},{"t":0,"n":22,"z":1.5,"t2":100,"n2":22,"z2":1.5},{"t":0,"n":1,"z":2,"t2":-2.2,"n2":1,"z2":2},{"t":0,"n":1,"z":3,"t2":-2.2,"n2":1,"z2":3},{"t":0,"n":1,"z":4,"t2":-2.2,"n2":1,"z2":4},{"t":0,"n":1,"z":1.5,"t2":-2.2,"n2":1,"z2":1.5},{"t":0,"n":5,"z":1.5,"t2":-2.2,"n2":5,"z2":1.5},{"t":0,"n":10,"z":1.5,"t2":-2.2,"n2":10,"z2":1.5},{"t":0,"n":15,"z":1.5,"t2":-2.2,"n2":15,"z2":1.5},{"t":0,"n":20,"z":1.5,"t2":-2.2,"n2":20,"z2":1.5},{"t":0,"n":22,"z":1.5,"t2":0,"n2":23,"z2":1.5},{"t":50,"n":22,"z":1.5,"t2":50,"n2":23,"z2":1.5},{"t":100,"n":22,"z":1.5,"t2":100,"n2":23,"z2":1.5}]},
"transform":[{"calculate":"708+2.62*datum.t+9.62*(datum.n-1)","as":"sx"},{"calculate":"686-0.63*datum.t+3.9*(datum.n-1)-57.5*(datum.z-1.5)","as":"sy"},{"calculate":"708+2.62*datum.t2+9.62*(datum.n2-1)","as":"sx2"},{"calculate":"686-0.63*datum.t2+3.9*(datum.n2-1)-57.5*(datum.z2-1.5)","as":"sy2"}],
"mark":{"type":"rule","color":"#262626","strokeWidth":1.5},
"encoding":{"x":{"field":"sx","type":"quantitative","scale":{"domain":[0,1253],"range":[0,1253],"nice":false,"zero":false},"axis":null},"y":{"field":"sy","type":"quantitative","scale":{"domain":[0,865],"range":[0,865],"nice":false,"zero":false},"axis":null},"x2":{"field":"sx2"},"y2":{"field":"sy2"}}},

{"data":{"values":[{"label":"2","t":-6,"n":1,"z":1.96},{"label":"3","t":-6,"n":1,"z":2.96},{"label":"4","t":-6,"n":1,"z":3.96}]},
"transform":[{"calculate":"708+2.62*datum.t+9.62*(datum.n-1)","as":"sx"},{"calculate":"686-0.63*datum.t+3.9*(datum.n-1)-57.5*(datum.z-1.5)","as":"sy"}],
"mark":{"type":"text","align":"right","baseline":"middle","font":"Liberation Sans","fontSize":24,"color":"#262626"},
"encoding":{"text":{"field":"label"},"x":{"field":"sx","type":"quantitative","scale":{"domain":[0,1253],"range":[0,1253],"nice":false,"zero":false},"axis":null},"y":{"field":"sy","type":"quantitative","scale":{"domain":[0,865],"range":[0,865],"nice":false,"zero":false},"axis":null}}},

{"data":{"values":[{"label":"1","t":-9,"n":1,"z":1.27},{"label":"5","t":-9,"n":5,"z":1.27},{"label":"10","t":-9,"n":10,"z":1.27},{"label":"15","t":-9,"n":15,"z":1.27},{"label":"20","t":-9,"n":20,"z":1.27},{"label":"0","t":0,"n":24,"z":1.286},{"label":"50","t":52,"n":24,"z":1.286},{"label":"100","t":105,"n":24,"z":1.2},{"label":"Nodal point number\u00a0\u00a0[-]","t":0,"n":5.05,"z":-0.26},{"label":"Time\u00a0\u00a0[s]","t":100,"n":13.2,"z":-0.61}]},
"transform":[{"calculate":"708+2.62*datum.t+9.62*(datum.n-1)","as":"sx"},{"calculate":"686-0.63*datum.t+3.9*(datum.n-1)-57.5*(datum.z-1.5)","as":"sy"}],
"mark":{"type":"text","align":"center","baseline":"middle","font":"Liberation Sans","fontSize":24.4,"color":"#262626"},
"encoding":{"text":{"field":"label"},"x":{"field":"sx","type":"quantitative","scale":{"domain":[0,1253],"range":[0,1253],"nice":false,"zero":false},"axis":null},"y":{"field":"sy","type":"quantitative","scale":{"domain":[0,865],"range":[0,865],"nice":false,"zero":false},"axis":null}}},

{"data":{"values":[{"label":"Nodal point speed [m/s]","t":-24.5,"n":1,"z":3.39}]},
"transform":[{"calculate":"708+2.62*datum.t+9.62*(datum.n-1)","as":"sx"},{"calculate":"686-0.63*datum.t+3.9*(datum.n-1)-57.5*(datum.z-1.5)","as":"sy"}],
"mark":{"type":"text","angle":270,"align":"center","baseline":"middle","font":"Liberation Sans","fontSize":24.4,"color":"#262626"},
"encoding":{"text":{"field":"label"},"x":{"field":"sx","type":"quantitative","scale":{"domain":[0,1253],"range":[0,1253],"nice":false,"zero":false},"axis":null},"y":{"field":"sy","type":"quantitative","scale":{"domain":[0,865],"range":[0,865],"nice":false,"zero":false},"axis":null}}},

{"data":{"values":[{"label":"(d)","t":0,"n":23.2,"z":0.12}]},
"transform":[{"calculate":"708+2.62*datum.t+9.62*(datum.n-1)","as":"sx"},{"calculate":"686-0.63*datum.t+3.9*(datum.n-1)-57.5*(datum.z-1.5)","as":"sy"}],
"mark":{"type":"text","font":"Liberation Serif","fontSize":24,"color":"#000000"},
"encoding":{"text":{"field":"label"},"x":{"field":"sx","type":"quantitative","scale":{"domain":[0,1253],"range":[0,1253],"nice":false,"zero":false},"axis":null},"y":{"field":"sy","type":"quantitative","scale":{"domain":[0,865],"range":[0,865],"nice":false,"zero":false},"axis":null}}}
]}
